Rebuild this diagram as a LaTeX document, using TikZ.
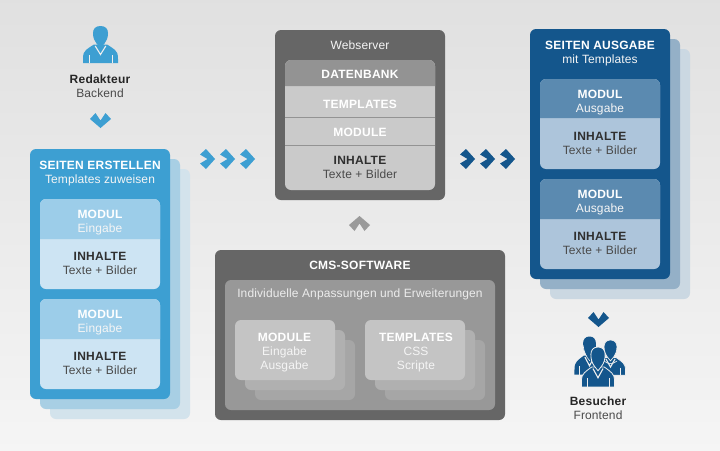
\documentclass[tikz,border=0pt]{standalone}
\usepackage{fontspec}
\setmainfont{Liberation Sans}
\definecolor{bl}{HTML}{3D9FD2}\definecolor{blu}{HTML}{9CCDE9}\definecolor{bll}{HTML}{CDE4F3}
\definecolor{blb}{HTML}{A8CFE4}\definecolor{blc}{HTML}{D3E3EC}
\definecolor{db}{HTML}{14568C}\definecolor{dbu}{HTML}{5B8AB0}\definecolor{dbl}{HTML}{ADC5DB}
\definecolor{dbb}{HTML}{94B0C7}\definecolor{dbc}{HTML}{CBD8E2}
\definecolor{gd}{HTML}{666666}\definecolor{gm}{HTML}{939393}\definecolor{gl}{HTML}{CACACA}
\definecolor{gi}{HTML}{989898}\definecolor{gf}{HTML}{C4C4C4}\definecolor{gs}{HTML}{B0B0B0}\definecolor{gt}{HTML}{A6A6A6}
\definecolor{ink}{HTML}{2F2F2F}\definecolor{inks}{HTML}{4A4A4A}\definecolor{chg}{HTML}{9A9A9A}
\definecolor{bg}{HTML}{EFEFEF}
\newcommand{\regf}{\fontsize{12}{14}\selectfont\addfontfeature{LetterSpace=1}}
\newcommand{\bldf}{\fontsize{12}{14}\selectfont\bfseries\addfontfeature{LetterSpace=2}}
\tikzset{
  txt/.style={anchor=base,inner sep=0pt,font=\regf,align=center},
  hw/.style={txt,text=white,font=\bldf},
  hd/.style={txt,text=ink,font=\bldf},
  hk/.style={txt,text=black!85,font=\bldf},
  tw/.style={txt,text=white!92!gray},
  td/.style={txt,text=inks},
  card/.style={rounded corners=6pt},
}
\newcommand{\rbox}[5]{\fill[card,#5] (#1,#2) rectangle (#3,#4);}
\newcommand{\rtop}[5]{\fill[#5,rounded corners=6pt] (#1,#4) -- (#1,#2) -- (#3,#2) -- (#3,#4);}
\newcommand{\chR}[3]{\fill[#3] (#1,#2+5.5) -- (#1+6,#2) -- (#1+15,#2+10) -- (#1+6,#2+20) -- (#1,#2+14.5) -- (#1+7.5,#2+10) -- cycle;}
\newcommand{\chD}[3]{\fill[#3] (#1,#2+6) -- (#1+5.5,#2) -- (#1+10.5,#2+7.5) -- (#1+15.5,#2) -- (#1+21,#2+6) -- (#1+10.5,#2+15) -- cycle;}
\newcommand{\chU}[3]{\fill[#3] (#1,#2+9) -- (#1+5.5,#2+15) -- (#1+10.5,#2+7.5) -- (#1+15.5,#2+15) -- (#1+21,#2+9) -- (#1+10.5,#2) -- cycle;}
% person: centre x, head top y, x scale, y scale, fill options
\newcommand{\person}[5]{%
 \begin{scope}[shift={(#1,#2)},x=#3pt,y=-#4pt]
  \path[#5] (-17.5,37) -- (-17.5,33) .. controls (-17.5,28) and (-16.5,25.5) .. (-14.5,24)
     .. controls (-12,22) and (-10,20.5) .. (-6.5,18.5) -- (6.5,18.5)
     .. controls (10,20.5) and (12,22) .. (14.5,24)
     .. controls (16.5,25.5) and (17.5,28) .. (17.5,33) -- (17.5,37) -- cycle;
  \draw[bg,line width=1.1pt] (-5.3,20) -- (0,28.5) -- (5.3,20);
  \draw[bg,line width=.3pt] (-11.5,29) -- (-11.5,37) (11.5,29) -- (11.5,37);
  \path[#5] (0,0) .. controls (-4.8,0) and (-7.5,2.8) .. (-7.5,7)
     .. controls (-7.5,12) and (-6,15) .. (-4,17.5) -- (0,22) -- (4,17.5)
     .. controls (6,15) and (7.5,12) .. (7.5,7)
     .. controls (7.5,2.8) and (4.8,0) .. (0,0) -- cycle;
 \end{scope}}
\begin{document}
\begin{tikzpicture}[x=1pt,y=-1pt]
\useasboundingbox (0,0) rectangle (720,450);
\shade[top color=black!12,bottom color=black!4] (0,0) rectangle (720,450);

% Redakteur
\person{100.5}{26}{1}{1}{fill=bl}
\node[hk] (red) at (100,83) {Redakteur};
\node[td] (back) at (100,97) {Backend};
\chD{90}{113}{bl}

% left stack
\rbox{50}{169}{190}{419}{blc}
\rbox{40}{159}{180}{409}{blb}
\rbox{30}{149}{170}{399}{bl}
\node[hw] (se) at (100,169) {SEITEN ERSTELLEN};
\node[tw] (tz) at (100,183) {Templates zuweisen};
\rbox{40}{199}{160}{289}{bll}
\rtop{40}{199}{160}{239}{blu}
\node[hw] (m1) at (100,218) {MODUL};
\node[tw] (e1) at (100,232) {Eingabe};
\node[hd] (i1) at (100,260) {INHALTE};
\node[td] (t1) at (100,274) {Texte + Bilder};
\rbox{40}{299}{160}{389}{bll}
\rtop{40}{299}{160}{339}{blu}
\node[hw] (m2) at (100,318) {MODUL};
\node[tw] (e2) at (100,332) {Eingabe};
\node[hd] (i2) at (100,360) {INHALTE};
\node[td] (t2) at (100,374) {Texte + Bilder};

% chevrons
\chR{200}{149}{bl}\chR{220}{149}{bl}\chR{240}{149}{bl}
\chR{460}{149}{db}\chR{480}{149}{db}\chR{500}{149}{db}
\chU{349}{216}{chg}

% webserver
\rbox{275}{30}{445}{200}{gd}
\rbox{285}{60}{435}{190}{gl}
\rtop{285}{60}{435}{86}{gm}
\draw[gm,line width=.8pt] (285,117.5) -- (435,117.5) (285,145.5) -- (435,145.5);
\node[tw] (ws) at (360,49) {Webserver};
\node[hw] (dbk) at (360,78) {DATENBANK};
\node[hw] (tp) at (360,108) {TEMPLATES};
\node[hw] (mo) at (360,136) {MODULE};
\node[hd] (in) at (360,164) {INHALTE};
\node[td] (tb) at (360,178) {Texte + Bilder};

% CMS
\rbox{215}{250}{505}{420}{gd}
\rbox{225}{280}{495}{410}{gi}
\node[hw] (cms) at (360,269) {CMS-SOFTWARE};
\node[tw,text=white!85!gray] (ind) at (360,297) {Individuelle Anpassungen und Erweiterungen};
\rbox{255}{340}{355}{400}{gt}
\rbox{245}{330}{345}{390}{gs}
\rbox{235}{320}{335}{380}{gf}
\node[hw] (cm) at (284.5,341) {MODULE};
\node[tw] (ce) at (284.5,355) {Eingabe};
\node[tw] (ca) at (284.5,369) {Ausgabe};
\rbox{385}{340}{485}{400}{gt}
\rbox{375}{330}{475}{390}{gs}
\rbox{365}{320}{465}{380}{gf}
\node[hw] (ct) at (416,341) {TEMPLATES};
\node[tw] (cc) at (416,355) {CSS};
\node[tw] (cs) at (416,369) {Scripte};

% right stack
\rbox{550}{49}{690}{299}{dbc}
\rbox{540}{39}{680}{289}{dbb}
\rbox{530}{29}{670}{279}{db}
\node[hw] (sa) at (600,49) {SEITEN AUSGABE};
\node[tw] (mt) at (600,63) {mit Templates};
\rbox{540}{79}{660}{169}{dbl}
\rtop{540}{79}{660}{118}{dbu}
\node[hw] (m3) at (600,98) {MODUL};
\node[tw] (a3) at (600,112) {Ausgabe};
\node[hd] (i3) at (600,140) {INHALTE};
\node[td] (t3) at (600,154) {Texte + Bilder};
\rbox{540}{179}{660}{269}{dbl}
\rtop{540}{179}{660}{219}{dbu}
\node[hw] (m4) at (600,198) {MODUL};
\node[tw] (a4) at (600,212) {Ausgabe};
\node[hd] (i4) at (600,240) {INHALTE};
\node[td] (t4) at (600,254) {Texte + Bilder};

% Besucher
\chD{588}{312}{db}
\person{589.5}{336.5}{.86}{1.03}{fill=db}
\draw[bg,line width=.6pt] (583,345) .. controls (584,352) and (586,357) .. (590,361);
\person{610.5}{340}{.86}{.95}{fill=db,draw=bg,line width=.7pt}
\draw[bg,line width=.6pt] (604,361) .. controls (608,364.5) and (613,364.5) .. (617,361);
\person{598}{347}{.95}{1.08}{fill=db,draw=bg,line width=.8pt}
\node[hk] (bes) at (598,405) {Besucher};
\node[td] (fr) at (598,419) {Frontend};
\end{tikzpicture}
\end{document}
